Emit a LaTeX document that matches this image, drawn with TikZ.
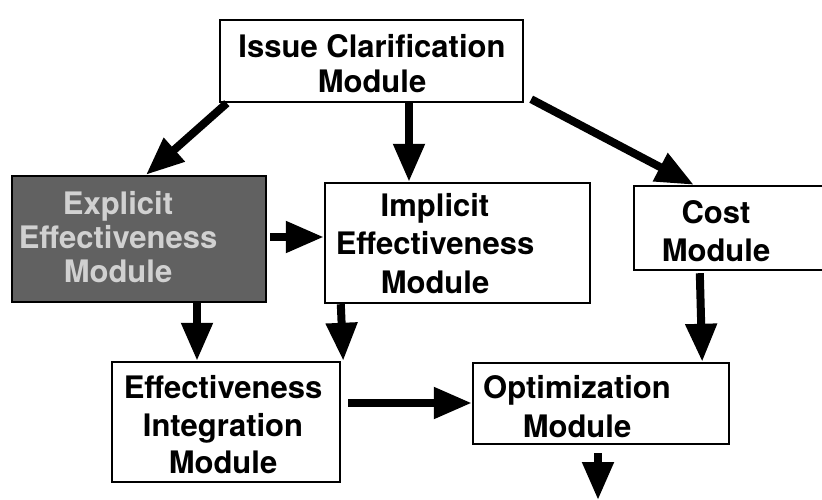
\documentclass[tikz,border=0pt]{standalone}
\usepackage{fontspec}
\setmainfont{TeX Gyre Heros}
\usetikzlibrary{arrows.meta,calc}
\begin{document}
\begin{tikzpicture}[x=1pt,y=-1pt,
  box/.style={draw=black, line width=2.4pt, rectangle, inner sep=0pt},
  shadedbox/.style={box, fill=black!62},
  lbl/.style={align=center, inner sep=0pt, font=\fontsize{31}{#1}\selectfont\bfseries},
  lbl/.default=37,
  flow/.style={line width=8pt, -{Triangle[length=38pt,width=30pt]}}
]
\useasboundingbox (0,0) rectangle (822,500);

% module boxes
\node[box, minimum width=303, minimum height=82] (issue) at (371.5,61) {};
\node[shadedbox, minimum width=254, minimum height=126] (explicit) at (139,239) {};
\node[box, minimum width=265, minimum height=120] (implicit) at (457.5,243) {};
\node[box, minimum width=216, minimum height=84] (cost) at (742,228) {};
\node[box, minimum width=228, minimum height=120] (effint) at (226,422) {};
\node[box, minimum width=256, minimum height=81] (opt) at (601,403.5) {};

% box captions
\node[lbl=35] (issueT) at (372,63.5) {Issue Clarification\\Module};
\node[lbl=34, text=black!18] (explicitT) at (118,237)
  {Explicit\\Effectiveness\\Module};
\node[lbl=38.5] (implicitT) at (435,243.5) {Implicit\\Effectiveness\\Module};
\node[lbl=38] (costT) at (716,231.5) {Cost\\Module};
\node[lbl=37.5] (effintT) at (223,425) {Effectiveness\\Integration\\Module};
\node[lbl=39] (optT) at (577,407) {Optimization\\Module};

% flow arrows
\coordinate (out) at (598,500);
\draw[flow] ($(issue.south west)+(8,0)$) -- ($(explicit.north)+(7,0)$);
\draw[flow] ($(issue.south)+(37.5,0)$) -- ($(implicit.north)+(-48.5,0)$);
\draw[flow] ($(issue.south east)+(7,-4)$) -- ($(cost.north west)+(61,0)$);
\draw[flow] ($(explicit.east)+(3,-2)$) -- ($(implicit.west)+(0,-6)$);
\draw[flow] ($(explicit.south)+(58,0)$) -- ($(effint.north)+(-29,0)$);
\draw[flow] ($(implicit.south west)+(17,0)$) -- ($(effint.north east)+(2,0)$);
\draw[flow] ($(effint.east)+(7,-19)$) -- ($(opt.west)+(0,-0.5)$);
\draw[flow] ($(cost.south west)+(67,2)$) -- ($(opt.north east)+(-28,0)$);
\draw[flow] ($(opt.south)+(-3,8)$) -- (out);
\end{tikzpicture}
\end{document}
